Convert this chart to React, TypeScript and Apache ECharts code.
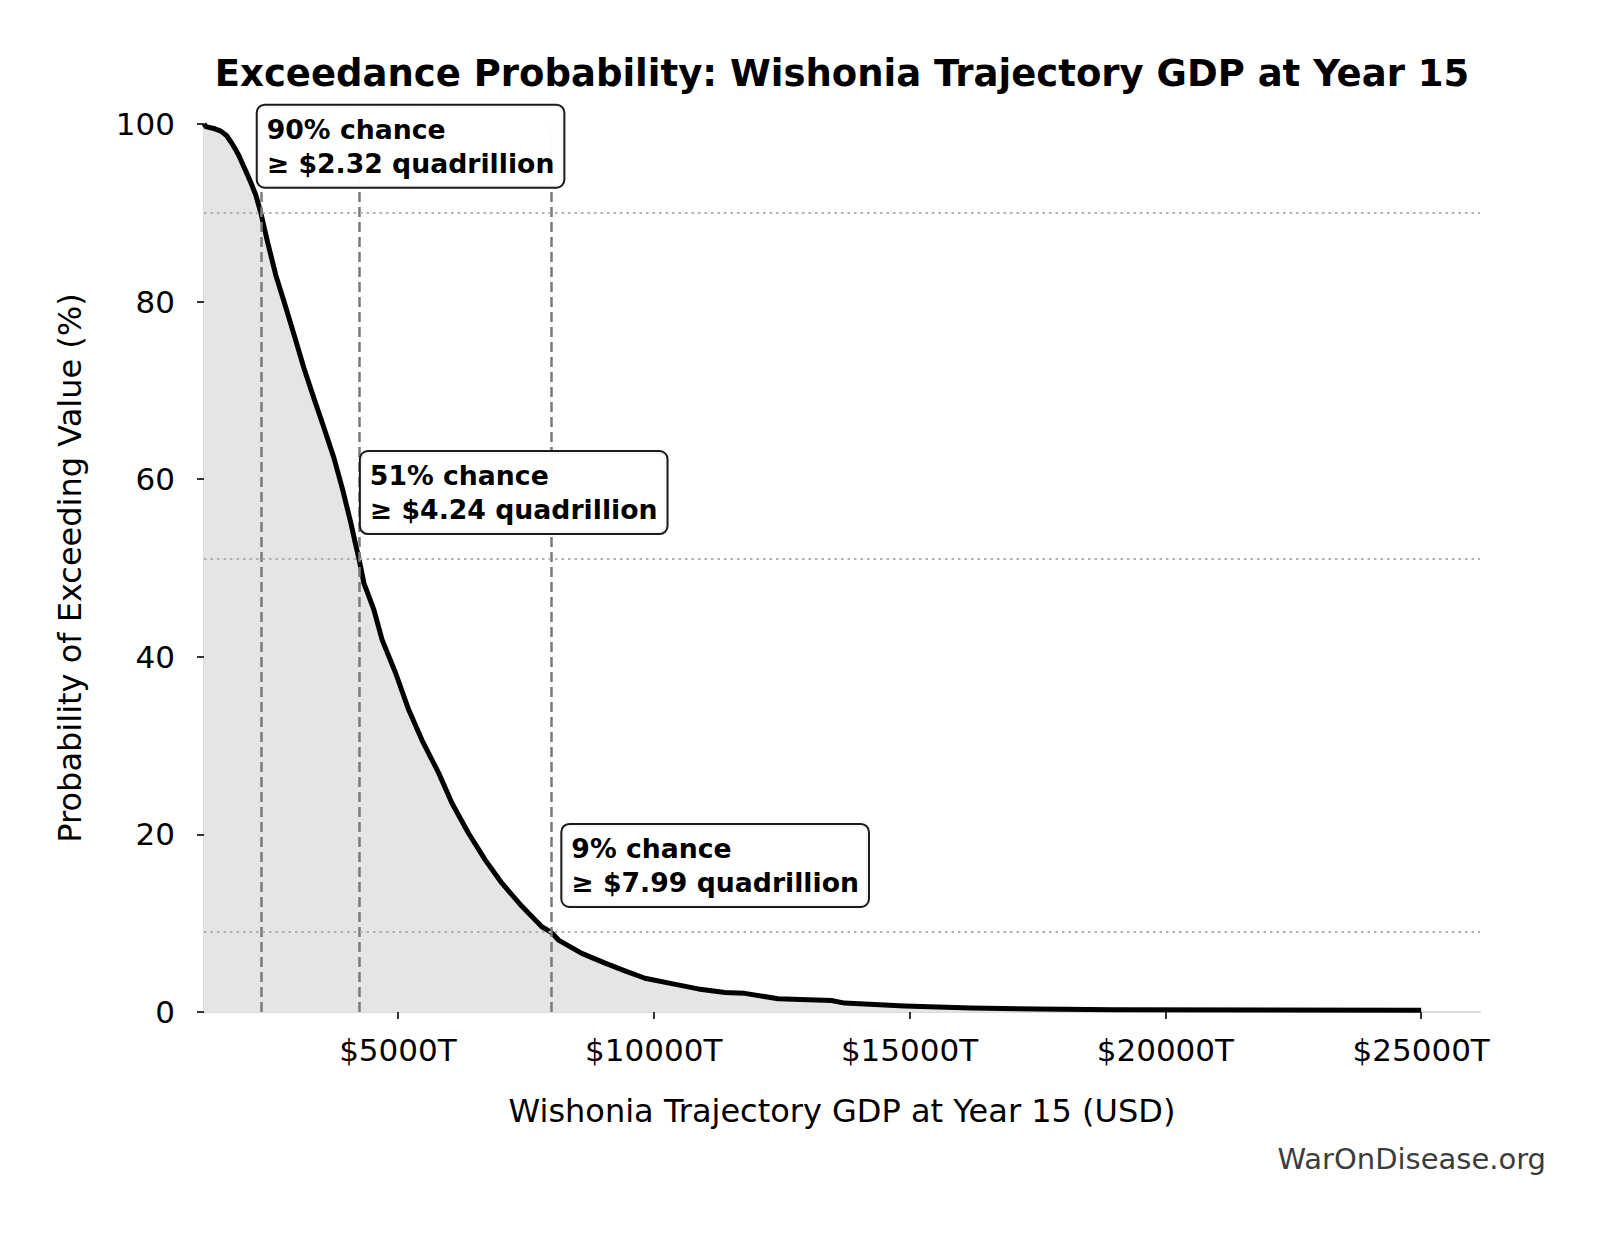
import React, { useEffect, useRef } from "react";
import * as echarts from "echarts";

// Exceedance curve: GDP at year 15 (trillions USD) vs. probability of exceeding it (%)
const gdpValues = [
  1210, 1247, 1400, 1539, 1650, 1734, 1820, 1896, 1980, 2058, 2140, 2222, 2320,
  2449, 2612, 2774, 2969, 3164, 3359, 3554, 3749, 3912, 4075, 4160, 4240, 4335,
  4530, 4692, 4953, 5213, 5472, 5798, 6057, 6383, 6709, 7033, 7423, 7813, 7990,
  8139, 8594, 9050, 9450, 9830, 10350, 10870, 11391, 11781, 12431, 13471, 13732,
  14902, 16202, 17502, 19000, 25000,
];
const exceedPct = [
  100, 99.7, 99.5, 99.2, 98.7, 98.0, 97.2, 96.4, 95.3, 94.3, 93.2, 92.0, 90.0,
  86.8, 83.0, 80.0, 76.3, 72.5, 69.1, 65.8, 62.4, 59.0, 55.2, 53.0, 51.0, 48.3,
  45.3, 41.9, 38.2, 34.0, 30.6, 26.9, 23.5, 20.1, 17.1, 14.5, 11.9, 9.6, 9.0,
  8.1, 6.6, 5.5, 4.6, 3.8, 3.2, 2.6, 2.2, 2.1, 1.5, 1.3, 1.0,
  0.68, 0.45, 0.34, 0.25, 0.2,
];

// Highlighted thresholds (probability %, GDP in trillions)
const markerPct = [90, 51, 9];
const markerGdp = [2320, 4240, 7990];

const xTickValues = [5000, 10000, 15000, 20000, 25000];
const yTickValues = [0, 20, 40, 60, 80, 100];

const FONT = "DejaVu Sans";

export default function App() {
  const ref = useRef<HTMLDivElement>(null);

  useEffect(() => {
    document.body.style.margin = "0";
    if (!ref.current) return;
    const chart = echarts.init(ref.current, undefined, { renderer: "svg" });

    const curve = gdpValues.map((g, i) => [g, exceedPct[i]]);

    const option = {
      animation: false,
      backgroundColor: "#ffffff",
      textStyle: { fontFamily: FONT },
      grid: { left: 204, right: 123, top: 124, bottom: 221, containLabel: false },
      graphic: [
        {
          type: "text",
          x: 842,
          y: 73,
          style: {
            text: "Exceedance Probability: Wishonia Trajectory GDP at Year 15",
            font: `bold 37px '${FONT}'`,
            fill: "#000",
            textAlign: "center",
            textVerticalAlign: "middle",
          },
        },
        {
          type: "text",
          x: 1546,
          y: 1159,
          style: {
            text: "WarOnDisease.org",
            font: `29px '${FONT}'`,
            fill: "#3c3c3c",
            textAlign: "right",
            textVerticalAlign: "middle",
          },
        },
      ],
      xAxis: {
        type: "value",
        min: 1210,
        max: 26150,
        name: "Wishonia Trajectory GDP at Year 15 (USD)",
        nameLocation: "middle",
        nameGap: 83,
        nameTextStyle: { fontSize: 32, color: "#000", fontFamily: FONT },
        axisLine: { show: true, lineStyle: { color: "#dadada", width: 2 } },
        axisTick: {
          show: true,
          customValues: xTickValues,
          length: 7,
          lineStyle: { color: "#000", width: 1.6 },
        },
        axisLabel: {
          customValues: xTickValues,
          formatter: (v: number) => `$${v}T`,
          fontSize: 31,
          color: "#000",
          fontFamily: FONT,
          margin: 22,
        },
        splitLine: { show: false },
      },
      yAxis: {
        type: "value",
        min: 0,
        max: 100,
        interval: 20,
        name: "Probability of Exceeding Value (%)",
        nameLocation: "middle",
        nameGap: 118,
        nameTextStyle: { fontSize: 32, color: "#000", fontFamily: FONT },
        axisLine: { show: true, lineStyle: { color: "#dadada", width: 2 } },
        axisTick: {
          show: true,
          customValues: yTickValues,
          length: 7,
          lineStyle: { color: "#000", width: 1.6 },
        },
        axisLabel: {
          fontSize: 31,
          color: "#000",
          fontFamily: FONT,
          margin: 29,
        },
        splitLine: { show: false },
      },
      series: [
        {
          type: "line",
          data: curve,
          showSymbol: false,
          symbol: "none",
          lineStyle: { opacity: 0, width: 0 },
          areaStyle: { color: "#e5e5e5", opacity: 1 },
          z: 1,
          silent: true,
        },
        {
          type: "line",
          data: [],
          z: 2,
          silent: true,
          markLine: {
            silent: true,
            symbol: ["none", "none"],
            label: { show: false },
            animation: false,
            data: [
              ...markerGdp.map((g) => ({
                xAxis: g,
                lineStyle: { color: "#7a7a7a", width: 2.5, type: [10, 5] },
              })),
              ...markerPct.map((p) => ({
                yAxis: p,
                lineStyle: { color: "#b0b0b0", width: 2.2, type: [2.5, 4] },
              })),
            ],
          },
        },
        {
          type: "line",
          data: curve,
          showSymbol: false,
          symbol: "none",
          lineStyle: { color: "#000", width: 5, join: "round" },
          z: 3,
          silent: true,
        },
        {
          type: "scatter",
          symbolSize: 0,
          z: 10,
          silent: true,
          itemStyle: { opacity: 1 },
          data: markerGdp.map((g, i) => [g * 1.05, markerPct[i] + 7.5]),
          label: {
            show: true,
            position: "right",
            distance: 0,
            offset: [-9, 0],
            opacity: 1,
            formatter: (p: any) => {
              const i = p.dataIndex;
              return `${markerPct[i]}% chance\n≥ $${(markerGdp[i] / 1000).toFixed(2)} quadrillion`;
            },
            fontFamily: FONT,
            fontWeight: "bold",
            fontSize: 26.7,
            lineHeight: 34,
            color: "#000",
            backgroundColor: "rgba(255,255,255,0.96)",
            borderColor: "#1a1a1a",
            borderWidth: 2,
            borderRadius: 7,
            padding: [7, 9, 6, 9],
          },
        },
      ],
    };

    chart.setOption(option as any);
    return () => chart.dispose();
  }, []);

  return <div ref={ref} style={{ width: 1603, height: 1233 }} />;
}
